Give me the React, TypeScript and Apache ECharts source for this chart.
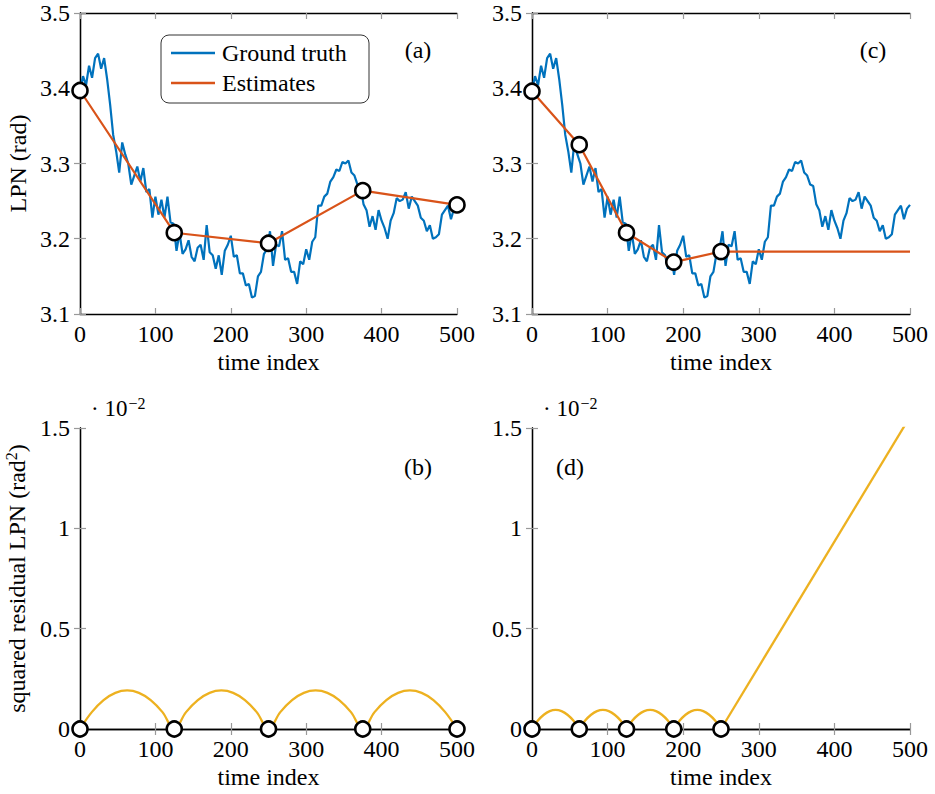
import React, { useEffect, useRef } from "react";
import * as echarts from "echarts";

// ---------- data ----------
const gtStep = 4; // time index spacing of ground-truth samples
const groundTruth = [
  3.398, 3.416, 3.404, 3.430, 3.414, 3.440, 3.446, 3.426, 3.440, 3.412,
  3.378, 3.338, 3.316, 3.288, 3.328, 3.312, 3.300, 3.272, 3.284, 3.296,
  3.276, 3.294, 3.262, 3.266, 3.228, 3.256, 3.232, 3.252, 3.228, 3.256,
  3.222, 3.220, 3.184, 3.208, 3.180, 3.186, 3.198, 3.176, 3.170, 3.188,
  3.192, 3.172, 3.218, 3.182, 3.178, 3.160, 3.178, 3.152, 3.184, 3.192,
  3.204, 3.176, 3.178, 3.154, 3.154, 3.138, 3.140, 3.122, 3.124, 3.150,
  3.156, 3.180, 3.186, 3.210, 3.164, 3.192, 3.190, 3.210, 3.172, 3.174,
  3.156, 3.156, 3.140, 3.170, 3.166, 3.186, 3.172, 3.196, 3.202, 3.244,
  3.244, 3.256, 3.260, 3.276, 3.282, 3.292, 3.290, 3.302, 3.300, 3.304,
  3.288, 3.284, 3.272, 3.270, 3.246, 3.238, 3.216, 3.230, 3.212, 3.238,
  3.224, 3.214, 3.200, 3.224, 3.234, 3.254, 3.250, 3.252, 3.262, 3.240,
  3.256, 3.250, 3.244, 3.228, 3.224, 3.210, 3.218, 3.200, 3.202, 3.206,
  3.232, 3.238, 3.244, 3.226, 3.240, 3.245,
];

const estATime = [0, 125, 250, 375, 500];
const estAValue = [3.397, 3.208, 3.194, 3.264, 3.245];

const estCTime = [0, 62.5, 125, 187.5, 250];
const estCValue = [3.396, 3.325, 3.208, 3.169, 3.183];
const estCHoldEnd = 500;

// squared residuals (in units of 1e-2 rad^2)
const resBStep = 15.625;
const residualB = [
  0, 0.084, 0.144, 0.180, 0.192, 0.180, 0.144, 0.084,
  0, 0.084, 0.144, 0.180, 0.192, 0.180, 0.144, 0.084,
  0, 0.084, 0.144, 0.180, 0.192, 0.180, 0.144, 0.084,
  0, 0.084, 0.144, 0.180, 0.192, 0.180, 0.144, 0.084,
  0,
];
const resDStep = 7.8125;
const residualD = [
  0, 0.042, 0.071, 0.089, 0.095, 0.089, 0.071, 0.042,
  0, 0.042, 0.071, 0.089, 0.095, 0.089, 0.071, 0.042,
  0, 0.042, 0.071, 0.089, 0.095, 0.089, 0.071, 0.042,
  0, 0.042, 0.071, 0.089, 0.095, 0.089, 0.071, 0.042,
  0,
];
const residualDTailTime = [250, 500];
const residualDTailValue = [0, 1.556];

const xTicks = { min: 0, max: 500, interval: 100 };
const yTopTicks = { min: 3.1, max: 3.5, interval: 0.1 };
const yBotTicks = { min: 0, max: 1.5, interval: 0.5 };

// ---------- style ----------
const FONT = "'Liberation Serif', 'DejaVu Serif', serif";
const FS = 24;
const BLUE = "#0072BD";
const ORANGE = "#D95319";
const YELLOW = "#EDB120";

const grids = [
  { left: 80, top: 13, width: 377, height: 301 },
  { left: 532, top: 13, width: 378, height: 301 },
  { left: 80, top: 428, width: 377, height: 301 },
  { left: 532, top: 428, width: 378, height: 301 },
];

export default function App() {
  const ref = useRef<HTMLDivElement>(null);
  useEffect(() => {
    if (!ref.current) return;
    const chart = echarts.init(ref.current, undefined, { renderer: "svg" });

    const axisLine = { show: true, lineStyle: { color: "#000", width: 1.3 } };
    const axisTick = { show: true, inside: true, length: 6, lineStyle: { color: "#999", width: 1.2 } };
    const labelStyle = { fontFamily: FONT, fontSize: FS, color: "#000" };

    const xAxes: any[] = [];
    const yAxes: any[] = [];
    grids.forEach((_, gi) => {
      xAxes.push({
        type: "value", gridIndex: gi, position: "bottom", ...xTicks,
        axisLine, axisTick, splitLine: { show: false },
        axisLabel: { ...labelStyle, margin: 8 },
        name: "time index", nameLocation: "middle", nameGap: 36,
        nameTextStyle: { fontFamily: FONT, fontSize: FS, color: "#000" },
      });
      xAxes.push({
        type: "value", gridIndex: gi, position: "top", ...xTicks,
        axisLine, axisTick, splitLine: { show: false }, axisLabel: { show: false },
      });
      const yt = gi < 2 ? yTopTicks : yBotTicks;
      const fmt = gi < 2
        ? (v: number) => v.toFixed(1)
        : (v: number) => String(Math.round(v * 10) / 10);
      let name = "";
      if (gi === 0) name = "LPN (rad)";
      if (gi === 2) name = "{a|squared residual LPN (rad}{s|2}{a|)}";
      yAxes.push({
        type: "value", gridIndex: gi, position: "left", ...yt,
        axisLine, axisTick, splitLine: { show: false },
        axisLabel: { ...labelStyle, margin: 10, formatter: fmt },
        name, nameLocation: "middle", nameGap: 50,
        nameTextStyle: {
          fontFamily: FONT, fontSize: FS, color: "#000",
          rich: {
            a: { fontFamily: FONT, fontSize: FS, color: "#000" },
            s: { fontFamily: FONT, fontSize: 16, color: "#000", padding: [0, 0, 11, 0] },
          },
        },
      });
      yAxes.push({
        type: "value", gridIndex: gi, position: "right", ...yt,
        axisLine, axisTick, splitLine: { show: false }, axisLabel: { show: false },
      });
    });

    const gtData = groundTruth.map((v, i) => [i * gtStep, v]);
    const marker = {
      symbol: "circle", symbolSize: 15,
      itemStyle: { color: "#fff", borderColor: "#000", borderWidth: 2.6, opacity: 1 },
    };

    const estC = estCTime.map((t, i) => [t, estCValue[i]]);
    const lastC = estCValue[estCValue.length - 1];
    const estCHold = [[estCTime[estCTime.length - 1], lastC], [estCHoldEnd, lastC]];

    const resB = residualB.map((v, i) => [i * resBStep, v]);
    const resD = residualD.map((v, i) => [i * resDStep, v]);
    const resDTail = residualDTailTime.map((t, i) => [t, residualDTailValue[i]]);

    const gtLine = { color: BLUE, width: 2.2 };
    const series: any[] = [
      // (a)
      { type: "line", xAxisIndex: 0, yAxisIndex: 0, data: gtData, showSymbol: false, lineStyle: gtLine, itemStyle: { color: BLUE }, z: 2 },
      { type: "line", xAxisIndex: 0, yAxisIndex: 0, data: estATime.map((t, i) => [t, estAValue[i]]), ...marker, lineStyle: { color: ORANGE, width: 2.2 }, z: 3 },
      // (c)
      { type: "line", xAxisIndex: 2, yAxisIndex: 2, data: gtData, showSymbol: false, lineStyle: gtLine, itemStyle: { color: BLUE }, z: 2 },
      { type: "line", xAxisIndex: 2, yAxisIndex: 2, data: estCHold, showSymbol: false, lineStyle: { color: ORANGE, width: 2.2 }, z: 3 },
      { type: "line", xAxisIndex: 2, yAxisIndex: 2, data: estC, ...marker, lineStyle: { color: ORANGE, width: 2.2 }, z: 4 },
      // (b)
      { type: "line", xAxisIndex: 4, yAxisIndex: 4, data: resB, showSymbol: false, smooth: 0.4, lineStyle: { color: YELLOW, width: 2.3 }, z: 2 },
      { type: "scatter", xAxisIndex: 4, yAxisIndex: 4, data: estATime.map((t) => [t, 0]), ...marker, z: 5, clip: false },
      // (d)
      { type: "line", xAxisIndex: 6, yAxisIndex: 6, data: resD, showSymbol: false, smooth: 0.4, lineStyle: { color: YELLOW, width: 2.3 }, z: 2 },
      { type: "line", xAxisIndex: 6, yAxisIndex: 6, data: resDTail, showSymbol: false, lineStyle: { color: YELLOW, width: 2.3 }, z: 2 },
      { type: "scatter", xAxisIndex: 6, yAxisIndex: 6, data: estCTime.map((t) => [t, 0]), ...marker, z: 5, clip: false },
    ];

    const textStyle = { fontFamily: FONT, fontSize: FS, fill: "#000" };
    const graphic: any[] = [
      { type: "text", x: 418, y: 50, style: { ...textStyle, text: "(a)", align: "center", verticalAlign: "middle" } },
      { type: "text", x: 873, y: 50, style: { ...textStyle, text: "(c)", align: "center", verticalAlign: "middle" } },
      { type: "text", x: 418, y: 467, style: { ...textStyle, text: "(b)", align: "center", verticalAlign: "middle" } },
      { type: "text", x: 570, y: 467, style: { ...textStyle, text: "(d)", align: "center", verticalAlign: "middle" } },
      // legend
      { type: "rect", shape: { x: 161, y: 35, width: 208, height: 68, r: 8 }, style: { fill: "#fff", stroke: "#333", lineWidth: 1 }, z: 10 },
      { type: "line", shape: { x1: 171, y1: 53, x2: 215, y2: 53 }, style: { stroke: BLUE, lineWidth: 2.4 }, z: 11 },
      { type: "line", shape: { x1: 171, y1: 83, x2: 215, y2: 83 }, style: { stroke: ORANGE, lineWidth: 2.4 }, z: 11 },
      { type: "text", x: 222, y: 53, style: { ...textStyle, text: "Ground truth", verticalAlign: "middle" }, z: 11 },
      { type: "text", x: 222, y: 83, style: { ...textStyle, text: "Estimates", verticalAlign: "middle" }, z: 11 },
    ];
    [91, 543].forEach((lx) => {
      graphic.push({
        type: "text", x: lx, y: 395,
        style: {
          text: "{a|· 10}{s|−2}",
          rich: {
            a: { fontFamily: FONT, fontSize: 23, fill: "#000" },
            s: { fontFamily: FONT, fontSize: 16, fill: "#000", padding: [0, 0, 11, 1] },
          },
        },
      });
    });

    chart.setOption({
      animation: false,
      backgroundColor: "#fff",
      grid: grids.map((g) => ({ ...g, containLabel: false })),
      xAxis: xAxes,
      yAxis: yAxes,
      series,
      graphic,
    });
    return () => chart.dispose();
  }, []);
  return (
    <div
      ref={ref}
      style={{ position: "fixed", left: 0, top: 0, width: 935, height: 794, background: "#fff" }}
    />
  );
}
